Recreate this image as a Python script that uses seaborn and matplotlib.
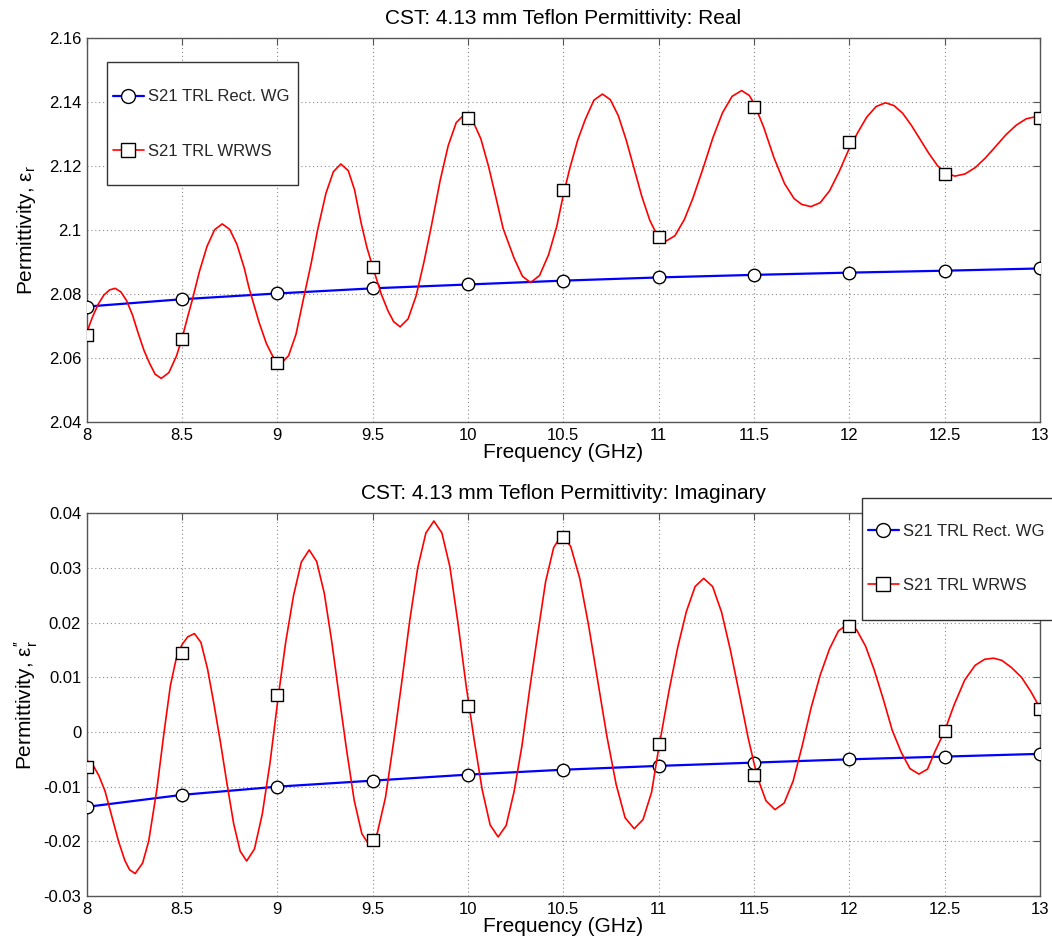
import matplotlib
matplotlib.use("Agg")
import matplotlib.pyplot as plt
from matplotlib.lines import Line2D
from matplotlib.patches import Rectangle
import seaborn as sns

# ==============================
# DATA
# ==============================
freq_pts = [8.0, 8.5, 9.0, 9.5, 10.0, 10.5, 11.0, 11.5, 12.0, 12.5, 13.0]

# real part
real_wg = [2.0761, 2.0784, 2.0802, 2.0818, 2.0830, 2.0842, 2.0852, 2.0860, 2.0867, 2.0873, 2.0880]
real_wrws_pts = [2.0672, 2.0660, 2.0586, 2.0886, 2.1348, 2.1125, 2.0978, 2.1385, 2.1276, 2.1174, 2.1350]

real_curve_f = [
    8.00, 8.03, 8.06, 8.09, 8.12, 8.149,
    8.179, 8.209, 8.24, 8.269, 8.30, 8.329, 8.359, 8.391,
    8.431, 8.471, 8.50, 8.53, 8.553, 8.591, 8.631, 8.671, 8.711,
    8.750, 8.788, 8.827, 8.851, 8.904, 8.943, 8.981, 9.02,
    9.059, 9.098, 9.135, 9.177, 9.211, 9.255, 9.294, 9.333,
    9.372, 9.405, 9.44, 9.47, 9.50, 9.545, 9.58, 9.61, 9.644,
    9.686, 9.728, 9.770, 9.807, 9.854, 9.896, 9.938, 9.98,
    10.023, 10.067, 10.107, 10.145, 10.184, 10.241, 10.285, 10.328,
    10.375, 10.422, 10.465, 10.50, 10.535, 10.575, 10.615, 10.66, 10.705,
    10.746, 10.788, 10.829, 10.865, 10.911, 10.953, 10.994, 11.035,
    11.085, 11.135, 11.18, 11.237, 11.285, 11.335, 11.385, 11.435,
    11.475, 11.50, 11.55, 11.605, 11.66, 11.71, 11.75, 11.798,
    11.847, 11.896, 11.945, 12.00, 12.045, 12.091, 12.14, 12.189,
    12.235, 12.28, 12.326, 12.371, 12.417, 12.462, 12.50, 12.553,
    12.607, 12.661, 12.714, 12.768, 12.821, 12.875, 12.928, 12.982, 13.00]
real_curve_v = [
    2.0680, 2.0728, 2.0768, 2.0797, 2.0813, 2.0818,
    2.0807, 2.0780, 2.0735, 2.0680, 2.0625, 2.0585, 2.0550, 2.0537,
    2.0555, 2.0607, 2.0662, 2.0730, 2.0780, 2.0870, 2.0949, 2.1001, 2.1019,
    2.1002, 2.0955, 2.0880, 2.0820, 2.0712, 2.0645, 2.0600, 2.0584,
    2.0608, 2.0675, 2.0780, 2.0895, 2.1000, 2.1115, 2.1182, 2.1206,
    2.1185, 2.1125, 2.1020, 2.0945, 2.0885, 2.0800, 2.0748, 2.0714, 2.0698,
    2.0723, 2.0795, 2.0903, 2.1010, 2.1155, 2.1263, 2.1335, 2.1360,
    2.1343, 2.1285, 2.1200, 2.1105, 2.1005, 2.0913, 2.0856, 2.0836,
    2.0858, 2.0922, 2.1010, 2.1110, 2.1195, 2.1280, 2.1345, 2.1405, 2.1424,
    2.1407, 2.1357, 2.1282, 2.1205, 2.1106, 2.1031, 2.0981, 2.0964,
    2.0982, 2.1033, 2.1100, 2.1200, 2.1289, 2.1366, 2.1417, 2.1435,
    2.1420, 2.1395, 2.1322, 2.1225, 2.1145, 2.1098, 2.1080, 2.1073,
    2.1085, 2.1122, 2.1180, 2.1255, 2.1305, 2.1352, 2.1385, 2.1397,
    2.1388, 2.1364, 2.1326, 2.1283, 2.1239, 2.1201, 2.1180, 2.1168,
    2.1175, 2.1195, 2.1225, 2.1261, 2.1297, 2.1327, 2.1347, 2.1354, 2.1352]

# imaginary part
imag_wg = [-0.0137, -0.0115, -0.0100, -0.0089, -0.0078, -0.0069, -0.0062, -0.0056, -0.0050, -0.0045, -0.0040]
imag_wrws_pts = [-0.0064, 0.0145, 0.0067, -0.0198, 0.0048, 0.0357, -0.0022, -0.0078, 0.0193, 0.0001, 0.0042]

imag_curve_f = [
    8.00, 8.032, 8.064, 8.096, 8.13, 8.167, 8.20, 8.225, 8.254,
    8.293, 8.325, 8.368, 8.404, 8.439, 8.47, 8.50, 8.53, 8.565,
    8.599, 8.634, 8.668, 8.702, 8.736, 8.771, 8.805, 8.839,
    8.88, 8.921, 8.962, 9.003, 9.044, 9.085, 9.126, 9.167,
    9.206, 9.246, 9.285, 9.325, 9.364, 9.403, 9.443, 9.482,
    9.524, 9.567, 9.609, 9.652, 9.694, 9.736, 9.779, 9.821,
    9.863, 9.905, 9.947, 9.99, 10.032, 10.074, 10.116, 10.158,
    10.20, 10.241, 10.283, 10.324, 10.366, 10.407, 10.449, 10.49,
    10.538, 10.586, 10.633, 10.681, 10.729, 10.777, 10.824, 10.872,
    10.918, 10.963, 11.00, 11.054, 11.10, 11.145, 11.191, 11.236,
    11.283, 11.33, 11.376, 11.423, 11.47, 11.517, 11.563, 11.61,
    11.658, 11.705, 11.753, 11.80, 11.848, 11.896, 11.943, 11.991,
    12.038, 12.085, 12.131, 12.178, 12.225, 12.272, 12.318, 12.365,
    12.41, 12.45, 12.50, 12.55, 12.605, 12.66, 12.71, 12.757,
    12.80, 12.85, 12.903, 12.95, 13.00]
imag_curve_v = [
    -0.0052, -0.0060, -0.0080, -0.0108, -0.0152, -0.0200, -0.0235, -0.0252, -0.0259,
    -0.0240, -0.0200, -0.0105, -0.0005, 0.0085, 0.0135, 0.0160, 0.0174, 0.0180,
    0.0164, 0.0115, 0.0050, -0.0020, -0.0095, -0.0168, -0.0218, -0.0236,
    -0.0214, -0.0150, -0.0055, 0.0060, 0.0165, 0.0250, 0.0311, 0.0333,
    0.0312, 0.0254, 0.0166, 0.0063, -0.0035, -0.0125, -0.0186, -0.0207,
    -0.0185, -0.0120, -0.0020, 0.0090, 0.0203, 0.0300, 0.0364, 0.0386,
    0.0364, 0.0302, 0.0200, 0.0085, -0.0014, -0.0105, -0.0170, -0.0192,
    -0.0171, -0.0110, -0.0025, 0.0080, 0.0180, 0.0275, 0.0337, 0.0360,
    0.0340, 0.0281, 0.0194, 0.0092, -0.0009, -0.0096, -0.0157, -0.0177,
    -0.0160, -0.0110, -0.0030, 0.0075, 0.0155, 0.0220, 0.0266, 0.0281,
    0.0266, 0.0219, 0.0150, 0.0070, -0.0012, -0.0082, -0.0126, -0.0142,
    -0.0130, -0.0090, -0.0025, 0.0045, 0.0105, 0.0152, 0.0185, 0.0197,
    0.0187, 0.0157, 0.0113, 0.0060, 0.0003, -0.0037, -0.0067, -0.0077,
    -0.0068, -0.0035, 0.0002, 0.0050, 0.0095, 0.0122, 0.0133, 0.0135,
    0.0131, 0.0118, 0.0100, 0.0075, 0.0044]

xticks = [8, 8.5, 9, 9.5, 10, 10.5, 11, 11.5, 12, 12.5, 13]
xtick_labels = ["8", "8.5", "9", "9.5", "10", "10.5", "11", "11.5", "12", "12.5", "13"]
real_yticks = [2.04, 2.06, 2.08, 2.10, 2.12, 2.14, 2.16]
real_ylabels = ["2.04", "2.06", "2.08", "2.1", "2.12", "2.14", "2.16"]
imag_yticks = [-0.03, -0.02, -0.01, 0, 0.01, 0.02, 0.03, 0.04]
imag_ylabels = ["-0.03", "-0.02", "-0.01", "0", "0.01", "0.02", "0.03", "0.04"]

labels = ["S21 TRL Rect. WG", "S21 TRL WRWS"]

# ==============================
# STYLE
# ==============================
sns.set_theme(style="white")
plt.rcParams["font.family"] = ["Liberation Sans", "DejaVu Sans"]
plt.rcParams["mathtext.fontset"] = "custom"
plt.rcParams["mathtext.rm"] = "Liberation Sans"
plt.rcParams["mathtext.it"] = "Liberation Sans"

W, H = 1052, 943
fig = plt.figure(figsize=(W / 100, H / 100), dpi=100)
fig.patch.set_facecolor("white")

def px_axes(left, top, right, bottom):
    return fig.add_axes([left / W, 1 - bottom / H, (right - left) / W, (bottom - top) / H])

ax1 = px_axes(86.7, 37.7, 1040, 422.3)
ax2 = px_axes(86.7, 513.3, 1040, 896)

def draw_panel(ax, wg, wrws_pts, cf, cv, yticks, ylabels, title, ylabel, ylabelpad):
    sns.lineplot(x=freq_pts, y=wg, ax=ax, color="blue", lw=1.6, marker="o",
                 markersize=9, markerfacecolor="white", markeredgecolor="black",
                 markeredgewidth=1.0, legend=False, zorder=3)
    sns.lineplot(x=cf, y=cv, ax=ax, color="red", lw=1.2, legend=False,
                 estimator=None, sort=False, zorder=4)
    sns.scatterplot(x=freq_pts, y=wrws_pts, ax=ax, marker="s", s=82,
                    facecolor="white", edgecolor="black", linewidth=1.0,
                    legend=False, zorder=5)
    ax.set_xlim(8, 13)
    ax.set_ylim(yticks[0], yticks[-1])
    ax.set_xticks(xticks)
    ax.set_xticklabels(xtick_labels)
    ax.set_yticks(yticks)
    ax.set_yticklabels(ylabels)
    ax.grid(True, color="#8c8c8c", linestyle=(0, (1, 2.5)), linewidth=0.8)
    ax.set_axisbelow(True)
    for sp in ax.spines.values():
        sp.set_color("#555555")
        sp.set_linewidth(1.0)
    ax.tick_params(direction="in", top=True, right=True, length=5, width=0.8,
                   color="#555555", labelsize=12, labelcolor="black", pad=4)
    ax.set_title(title, fontsize=15, pad=10, color="black")
    ax.set_xlabel("Frequency (GHz)", fontsize=15, labelpad=0, color="black")
    ax.set_ylabel(ylabel, fontsize=15, labelpad=ylabelpad, color="black")

draw_panel(ax1, real_wg, real_wrws_pts, real_curve_f, real_curve_v, real_yticks, real_ylabels,
           "CST: 4.13 mm Teflon Permittivity: Real", "Permittivity, ε$_r$", 8)
draw_panel(ax2, imag_wg, imag_wrws_pts, imag_curve_f, imag_curve_v, imag_yticks, imag_ylabels,
           "CST: 4.13 mm Teflon Permittivity: Imaginary", "Permittivity, ε$_r^{\\prime\\prime}$", 2)

# legends: frame drawn as a box, entries placed inside it
handles = [
    Line2D([], [], color="blue", lw=1.6, marker="o", markersize=10,
           markerfacecolor="white", markeredgecolor="black", markeredgewidth=1.0),
    Line2D([], [], color="red", lw=1.2, marker="s", markersize=9.5,
           markerfacecolor="white", markeredgecolor="black", markeredgewidth=1.0),
]

def legend_box(left, top, right, bottom, text_left, center_y):
    fig.add_artist(Rectangle((left / W, 1 - bottom / H), (right - left) / W, (bottom - top) / H,
                             transform=fig.transFigure, facecolor="white",
                             edgecolor="#333333", lw=1.0, zorder=10))
    leg = fig.legend(handles, labels, loc="center left",
                     bbox_to_anchor=(text_left / W, 1 - center_y / H),
                     frameon=False, fontsize=12, borderpad=0, borderaxespad=0,
                     handlelength=1.85, handletextpad=0.25, labelspacing=2.35)
    leg.set_zorder(11)

legend_box(107, 62, 298, 185, 113, 124)
legend_box(862, 498, 1056, 620, 868, 558.5)

fig.savefig("out.png", dpi=100, facecolor="white")
